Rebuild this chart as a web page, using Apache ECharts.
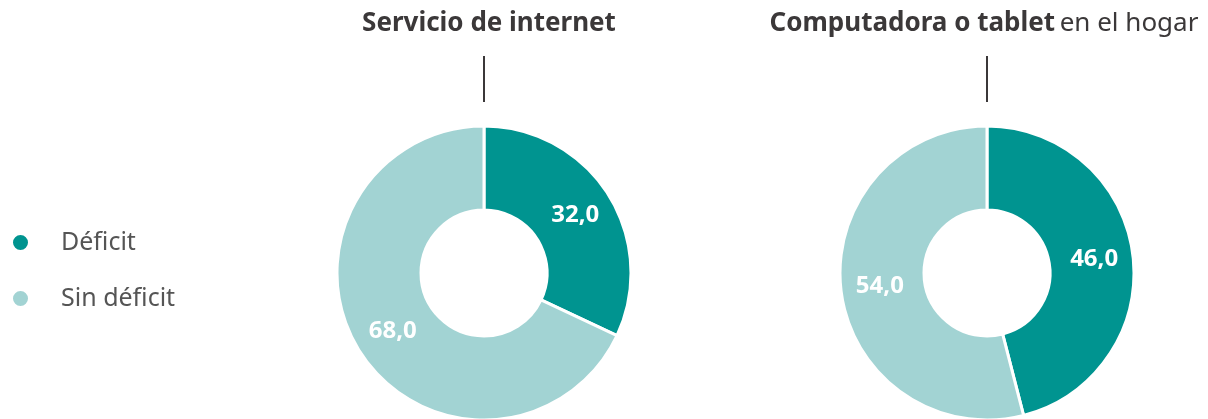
<!DOCTYPE html>
<html><head><meta charset="utf-8">
<script src="https://cdn.jsdelivr.net/npm/echarts@6/dist/echarts.min.js"></script>
<style>html,body{margin:0;padding:0;background:#fff}#c{width:1208px;height:419px}</style>
</head><body><div id="c"></div>
<script>
const categories = ['Déficit', 'Sin déficit'];
const internetValues = [32.0, 68.0];
const computerValues = [46.0, 54.0];
const colors = ['#009490', '#a2d3d3'];

const R = 147, r = 63, cy = 273;
const cx1 = 484, cx2 = 987;
const chart = echarts.init(document.getElementById('c'));
const font = '"Noto Sans", sans-serif';
function mk(name, vals, cx) {
  return {
    type: 'pie', name: name, radius: [r, R], center: [cx, cy],
    startAngle: 90, clockwise: true, silent: true,
    itemStyle: { borderColor: '#fff', borderWidth: 3 },
    label: { show: true, position: 'inside', color: '#fff', fontSize: 24, fontWeight: 'bold', fontFamily: font,
      formatter: p => p.value.toFixed(1).replace('.', ',') },
    labelLine: { show: false },
    data: categories.map((c, i) => ({ name: c, value: vals[i] }))
  };
}
chart.setOption({
  animation: false,
  color: colors,
  textStyle: { fontFamily: font },
  legend: {
    orient: 'vertical', left: 6, top: 225, itemGap: 31, icon: 'circle', itemWidth: 17, itemHeight: 17,
    textStyle: { fontSize: 25, color: '#555', fontFamily: font, padding: [0, 0, 0, 27] },
    data: categories
  },
  title: [
    { text: 'Servicio de internet', left: cx1, textAlign: 'center', top: 6,
      textStyle: { fontSize: 26, fontWeight: 'bold', color: '#3b3839', fontFamily: font } },
    { text: '{b|Computadora o tablet} {n|en el hogar}', left: 979, textAlign: 'center', top: 6,
      textStyle: { rich: {
        b: { fontSize: 26, fontWeight: 'bold', color: '#3b3839', fontFamily: font },
        n: { fontSize: 26, fontWeight: 'normal', color: '#3b3839', fontFamily: font } } } }
  ],
  graphic: [
    { type: 'line', shape: { x1: cx1, y1: 56, x2: cx1, y2: 102 }, style: { stroke: '#3b3839', lineWidth: 2 } },
    { type: 'line', shape: { x1: cx2, y1: 56, x2: cx2, y2: 102 }, style: { stroke: '#3b3839', lineWidth: 2 } }
  ],
  series: [mk('Servicio de internet', internetValues, cx1), mk('Computadora o tablet en el hogar', computerValues, cx2)]
});
</script></body></html>
